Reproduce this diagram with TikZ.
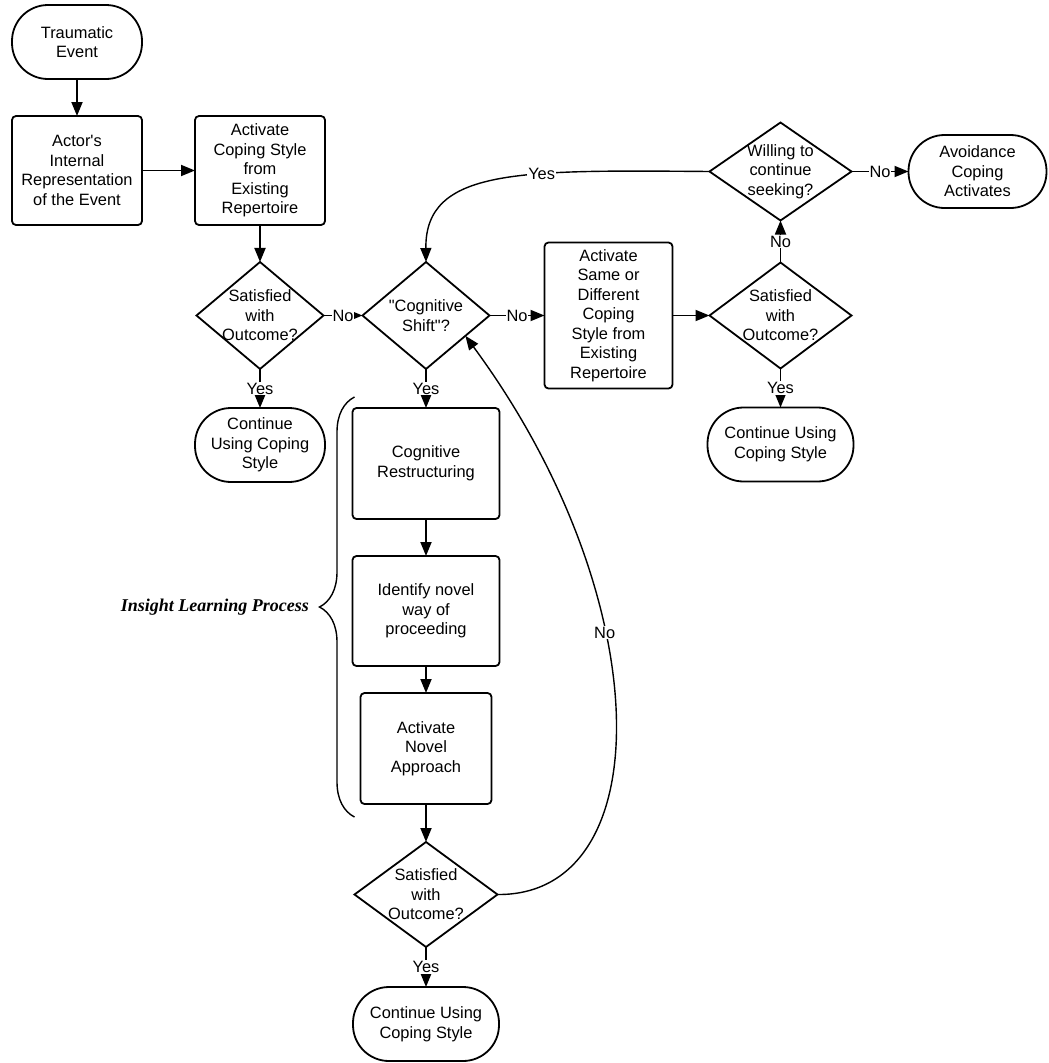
\documentclass[tikz,border=0pt]{standalone}
\usepackage{fontspec}
\setmainfont{Liberation Sans}
\newfontfamily\insightfont{Liberation Serif}
\usetikzlibrary{positioning, arrows.meta, shapes.geometric, calc, decorations.pathreplacing}

\begin{document}
\begin{tikzpicture}[
  x=1pt, y=-1pt,
  font=\fontsize{16.4}{19.5}\selectfont,
  term/.style={draw, line width=1.8pt, rounded corners=36pt, minimum width=130pt, minimum height=74pt, align=center, inner sep=0pt, outer sep=0pt},
  proc/.style={draw, line width=1.8pt, rounded corners=4pt, minimum width=130pt, minimum height=109pt, align=center, inner sep=0pt, outer sep=0pt},
  dec/.style={draw, diamond, line width=1.8pt, minimum width=127pt, minimum height=107pt, inner sep=0pt, outer sep=0pt, label={[align=center]center:#1}},
  arr/.style={-{Triangle[length=14pt,width=11pt]}, line width=1.8pt},
  curv/.style={-{Triangle[length=14pt,width=11pt]}, line width=1.4pt},
  lab/.style={fill=white, inner sep=1pt}
]
  \useasboundingbox (0,0) rectangle (1049,1063);

  \node[term] (tr) at (77,42) {Traumatic\\Event};
  \node[proc, below=37pt of tr] (actor) {Actor\textquotesingle s\\Internal\\Representation\\of the Event};
  \node[proc, right=53pt of actor] (cope) {Activate\\Coping Style\\from\\Existing\\Repertoire};
  \node[dec={Satisfied\\with\\Outcome?}, below=37pt of cope] (sat1) {};
  \node[term, below=39pt of sat1] (cont1) {Continue\\Using Coping\\Style};
  \node[dec={\textquotedbl Cognitive\\Shift\textquotedbl ?}, right=39pt of sat1] (shift) {};
  \node[proc, minimum width=147pt, minimum height=111pt, below=39pt of shift] (restr) {Cognitive\\Restructuring};
  \node[proc, minimum width=147pt, minimum height=110pt, below=37pt of restr] (ident) {Identify novel\\way of\\proceeding};
  \node[proc, minimum width=131pt, minimum height=111pt, below=27pt of ident] (novel) {Activate\\Novel\\Approach};
  \node[dec={Satisfied\\with\\Outcome?}, minimum width=143pt, minimum height=105pt, below=38pt of novel] (sat3) {};
  \node[term, minimum width=146pt, below=40pt of sat3] (cont3) {Continue Using\\Coping Style};
  \node[proc, minimum width=128pt, minimum height=146pt, right=55pt of shift] (same) {Activate\\Same or\\Different\\Coping\\Style from\\Existing\\Repertoire};
  \node[dec={Satisfied\\with\\Outcome?}, minimum width=142pt, minimum height=106pt, right=37pt of same] (sat2) {};
  \node[term, minimum width=146pt, below=39pt of sat2] (cont2) {Continue Using\\Coping Style};
  \node[dec={Willing to\\continue\\seeking?}, minimum width=142pt, minimum height=98pt, above=42pt of sat2] (will) {};
  \node[term, minimum width=138pt, minimum height=73pt, right=57pt of will] (avoid) {Avoidance\\Coping\\Activates};

  \draw[arr] (tr) -- (actor);
  \draw[arr] (actor) -- (cope);
  \draw[arr] (cope) -- (sat1);
  \draw[arr] (sat1) -- node[lab]{Yes} (cont1);
  \draw[arr] (sat1) -- node[lab]{No} (shift);
  \draw[arr] (shift) -- node[lab]{Yes} (restr);
  \draw[arr] (restr) -- (ident);
  \draw[arr] (ident) -- (novel);
  \draw[arr] (novel) -- (sat3);
  \draw[arr] (sat3) -- node[lab]{Yes} (cont3);
  \draw[arr] (shift) -- node[lab]{No} (same);
  \draw[arr] (same) -- (sat2);
  \draw[arr] (sat2) -- node[lab]{Yes} (cont2);
  \draw[arr] (sat2) -- node[lab]{No} (will);
  \draw[arr] (will) -- node[lab]{No} (avoid);
  \draw[curv] (sat3.east) .. controls (660,896) and (660,600) .. ($(shift.east)!0.38!(shift.south)$) node[lab, pos=0.62]{No};
  \draw[curv] (will.west) .. controls (520,170) and (425,168) .. (shift.north) node[lab, pos=0.36]{Yes};

  % brace round the insight steps
  \coordinate (bt) at ($(restr.north west)+(2,-11)$);
  \coordinate (bb) at ($(restr.west |- novel.south)+(2,13)$);
  \draw[line width=1.4pt, decorate, decoration={brace, amplitude=35pt}] (bb) -- (bt);
  \node[anchor=east, font=\insightfont\fontsize{18}{22}\selectfont\bfseries\itshape] (ilp) at ($(bt)!0.5!(bb)+(-42,0)$) {Insight Learning Process};
\end{tikzpicture}
\end{document}
